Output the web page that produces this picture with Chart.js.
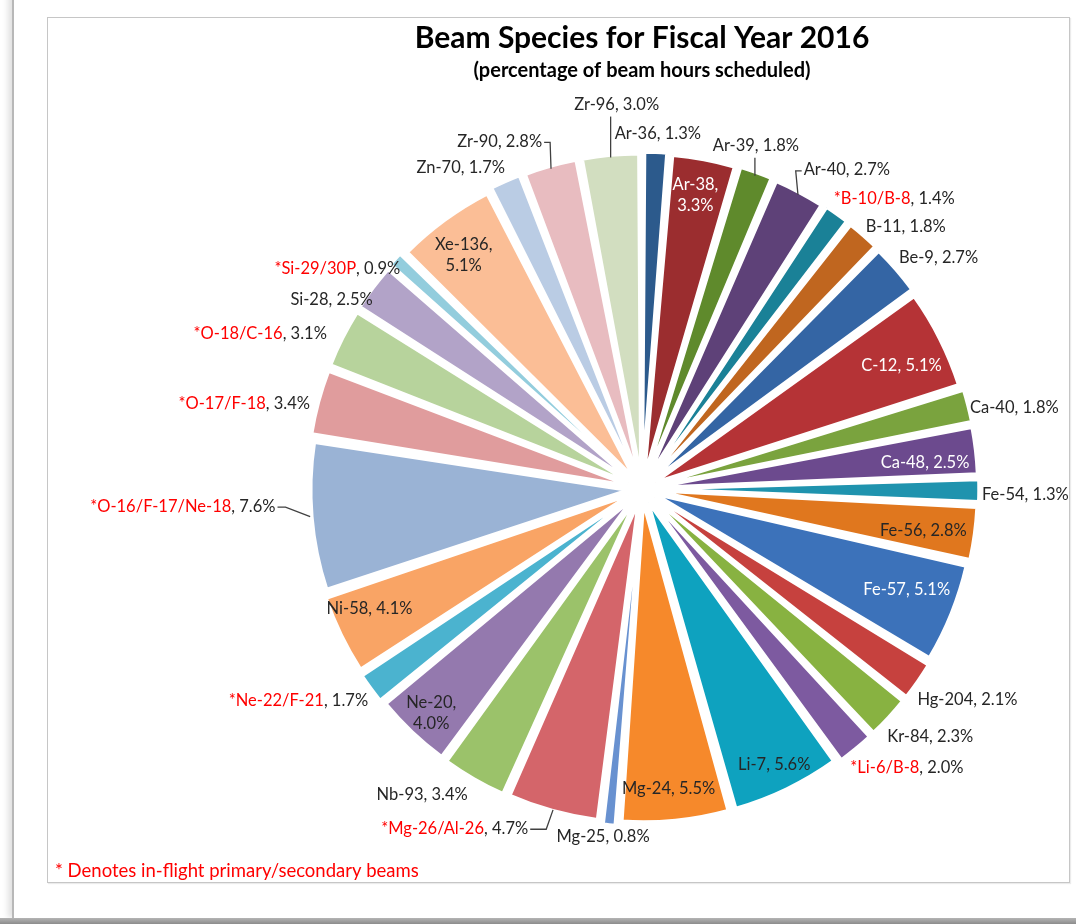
<!DOCTYPE html>
<html>
<head>
<meta charset="utf-8">
<title>Beam Species for Fiscal Year 2016</title>
<script src="https://cdn.jsdelivr.net/npm/chart.js@4.4.1/dist/chart.umd.min.js"></script>
<style>
  html, body { margin: 0; padding: 0; background: #fff; }
  body { width: 1076px; height: 924px; position: relative; overflow: hidden; }
  .sheet {
    position: absolute; left: 12px; top: -10px; width: 1100px; height: 928px;
    border-left: 2px solid #b8b8b8; background: #fff;
    box-shadow: -4px 0 6px rgba(0, 0, 0, 0.12);
  }
  .floor {
    position: absolute; left: 0; top: 918px; width: 1076px; height: 6px;
    background: linear-gradient(#b4b4b4, #8c8c8c);
  }
  .frame {
    position: absolute; left: 47px; top: 17px; width: 1021px; height: 864px;
    border: 1.5px solid #c6c6c6; box-shadow: 1px 1px 1px rgba(0, 0, 0, 0.08);
  }
  #beamChart { position: absolute; left: 0; top: 0; }
</style>
</head>
<body>
<div class="sheet"></div>
<div class="floor"></div>
<div class="frame"></div>
<canvas id="beamChart" width="1076" height="924"></canvas>
<script>
// === Data ===
const species = [
    'Ar-36', 'Ar-38', 'Ar-39', 'Ar-40', '*B-10/B-8', 'B-11', 'Be-9', 'C-12',
    'Ca-40', 'Ca-48', 'Fe-54', 'Fe-56', 'Fe-57', 'Hg-204', 'Kr-84', '*Li-6/B-8',
    'Li-7', 'Mg-24', 'Mg-25', '*Mg-26/Al-26', 'Nb-93', 'Ne-20', '*Ne-22/F-21',
    'Ni-58', '*O-16/F-17/Ne-18', '*O-17/F-18', '*O-18/C-16', 'Si-28',
    '*Si-29/30P', 'Xe-136', 'Zn-70', 'Zr-90', 'Zr-96'
];
const share = [
    1.3, 3.3, 1.8, 2.7, 1.4, 1.8, 2.7, 5.1,
    1.8, 2.5, 1.3, 2.8, 5.1, 2.1, 2.3, 2.0,
    5.6, 5.5, 0.8, 4.7, 3.4, 4.0, 1.7,
    4.1, 7.6, 3.4, 3.1, 2.5,
    0.9, 5.1, 1.7, 2.8, 3.0
];
const TITLE = 'Beam Species for Fiscal Year 2016';
const SUBTITLE = '(percentage of beam hours scheduled)';
const FOOTNOTE = '* Denotes in-flight primary/secondary beams';

// === Style ===
const sliceColors = [
    '#2c5a8c', '#9b2d2f', '#5f8a2c', '#5e4178', '#1a8197', '#c0661f', '#3465a4', '#b53336',
    '#7aa33e', '#6c4a8e', '#1f93ae', '#e0771e', '#3c72ba', '#c6413e', '#88b241', '#7d5aa0',
    '#0ea2bf', '#f6892b', '#6891d0', '#d4656a', '#9bc26a', '#9479ae', '#4bb3cf',
    '#f9a465', '#9ab3d5', '#e09c9d', '#b7d39c', '#b2a3c8',
    '#93cddd', '#fbbe96', '#bacce4', '#e8bcc0', '#d2dec0'
];
const FONT = 'Lato, "Open Sans", sans-serif';
const LABEL_SIZE = 16.5;
const TEXT_DARK = '#262626';
const TEXT_RED = '#ff0000';
const LABEL_RING = 343;   // distance of outside labels from the centre
const INSIDE_RING = 295;  // distance of inside labels from the centre
const EDGE_RING = 333;    // where leader lines meet the slices

// label placement: in/out, small nudges, leaders
const labelLayout = {
    'Ar-36': { dx: 0, dy: -5 },
    'Ar-38': { inside: true, wrap: true, light: true, dx: -1, dy: -4 },
    'Ar-39': { dx: -17, dy: -13, leader: 'v' },
    'Ar-40': { dx: 24, dy: -9, leader: 'elbow', run: 6 },
    '*B-10/B-8': { dx: 19, dy: -4 },
    'B-11': { dx: 12, dy: 2 },
    'Be-9': { dx: 7, dy: -2 },
    'C-12': { inside: true, light: true, dx: -4, dy: 9 },
    'Ca-40': { dx: -3, dy: 6 },
    'Ca-48': { inside: true, light: true, dx: -10, dy: 7 },
    'Fe-54': { dx: -3, dy: 4 },
    'Fe-56': { inside: true, dx: -11, dy: 2 },
    'Fe-57': { inside: true, light: true, dx: -9, dy: -9 },
    'Hg-204': { dx: 3, dy: 10 },
    'Kr-84': { dx: 5, dy: 9 },
    '*Li-6/B-8': { dx: 11, dy: 8 },
    'Li-7': { inside: true, dx: 4, dy: 10 },
    'Mg-24': { inside: true, dx: -3, dy: 6 },
    'Mg-25': { dx: -1, dy: -2 },
    '*Mg-26/Al-26': { dx: -76, dy: 1, leader: 'elbow', run: 16 },
    'Nb-93': { dx: -25, dy: 2 },
    'Ne-20': { inside: true, wrap: true, dx: -8, dy: 10 },
    '*Ne-22/F-21': { dx: -11, dy: 4 },
    'Ni-58': { inside: true, dx: -7, dy: -9 },
    '*O-16/F-17/Ne-18': { dx: -25, dy: -12, leader: 'elbow', run: 8 },
    '*O-17/F-18': { dx: -3, dy: 6 },
    '*O-18/C-16': { dx: -16, dy: 3 },
    'Si-28': { dx: -3, dy: 21 },
    '*Si-29/30P': { dx: -9, dy: 19 },
    'Xe-136': { inside: true, wrap: true, dx: -4, dy: 4 },
    'Zn-70': { dx: -24, dy: -1 },
    'Zr-90': { dx: -37, dy: -10, leader: 'elbow', run: 6 },
    'Zr-96': { dx: 11, dy: -35, leader: 'v' }
};

// draws "name, value%" with the starred names in red
function drawLabelLine(ctx, name, rest, left, y, baseColor) {
    const red = name.startsWith('*');
    ctx.fillStyle = red ? TEXT_RED : baseColor;
    ctx.fillText(name, left, y);
    const w = ctx.measureText(name).width;
    ctx.fillStyle = baseColor;
    ctx.fillText(rest, left + w, y);
}

const sliceLabels = {
    id: 'sliceLabels',
    afterDatasetsDraw(chart) {
        const ctx = chart.ctx;
        const meta = chart.getDatasetMeta(0);
        ctx.save();
        ctx.font = `${LABEL_SIZE}px ${FONT}`;
        ctx.textAlign = 'left';
        ctx.textBaseline = 'middle';
        ctx.strokeStyle = '#404040';
        ctx.lineWidth = 1.3;

        meta.data.forEach((arc, i) => {
            const name = species[i];
            const lay = labelLayout[name] || {};
            const mid = (arc.startAngle + arc.endAngle) / 2;
            const ux = Math.cos(mid), uy = Math.sin(mid);
            const pct = share[i].toFixed(1) + '%';
            const color = lay.light ? '#ffffff' : TEXT_DARK;
            const lineH = 21;

            if (lay.inside) {
                const cx = arc.x + ux * INSIDE_RING + (lay.dx || 0);
                const cy = arc.y + uy * INSIDE_RING + (lay.dy || 0);
                if (lay.wrap) {
                    const a = name + ',';
                    ctx.fillStyle = color;
                    ctx.fillText(a, cx - ctx.measureText(a).width / 2, cy - lineH / 2);
                    ctx.fillText(pct, cx - ctx.measureText(pct).width / 2, cy + lineH / 2);
                } else {
                    const rest = ', ' + pct;
                    const w = ctx.measureText(name + rest).width;
                    drawLabelLine(ctx, name, rest, cx - w / 2, cy, color);
                }
                return;
            }

            const rest = ', ' + pct;
            const w = ctx.measureText(name + rest).width;
            const h = 16;
            const px = arc.x + ux * LABEL_RING;
            const py = arc.y + uy * LABEL_RING;
            const cx = px + ux * w / 2 + (lay.dx || 0);
            const cy = py + uy * h / 2 + (lay.dy || 0);
            drawLabelLine(ctx, name, rest, cx - w / 2, cy, color);

            if (lay.leader) {
                const ex = arc.x + ux * EDGE_RING;
                const ey = arc.y + uy * EDGE_RING;
                ctx.beginPath();
                if (lay.leader === 'v') {
                    ctx.moveTo(ex, cy + h / 2 + 4);
                    ctx.lineTo(ex, ey);
                } else {
                    const side = ux < 0 ? 1 : -1;
                    const ax = side > 0 ? cx + w / 2 + 2 : cx - w / 2 - 2;
                    ctx.moveTo(ax, cy + 1);
                    ctx.lineTo(ax + side * lay.run, cy + 1);
                    ctx.lineTo(ex, ey);
                }
                ctx.stroke();
            }
        });
        ctx.restore();
    },
    afterDraw(chart) {
        const ctx = chart.ctx;
        ctx.save();
        ctx.font = `18.5px ${FONT}`;
        ctx.fillStyle = TEXT_RED;
        ctx.textBaseline = 'middle';
        ctx.fillText(FOOTNOTE, 55, 871);
        ctx.restore();
    }
};

new Chart(document.getElementById('beamChart'), {
    type: 'pie',
    data: {
        labels: species,
        datasets: [{
            data: share,
            backgroundColor: sliceColors,
            borderColor: '#ffffff',
            borderWidth: 3,
            offset: 60
        }]
    },
    options: {
        responsive: false,
        animation: false,
        devicePixelRatio: 1,
        radius: 308,
        layout: {
            padding: { left: 228, right: 20, top: 20, bottom: 29 }
        },
        plugins: {
            legend: { display: false },
            tooltip: { enabled: false },
            title: {
                display: true,
                text: TITLE,
                color: '#000',
                font: { family: FONT, size: 30, weight: 'bold' },
                padding: { top: 0, bottom: 3 }
            },
            subtitle: {
                display: true,
                text: SUBTITLE,
                color: '#000',
                font: { family: FONT, size: 20, weight: 'bold' },
                padding: { top: 0, bottom: 0 }
            }
        }
    },
    plugins: [sliceLabels]
});
</script>
</body>
</html>
